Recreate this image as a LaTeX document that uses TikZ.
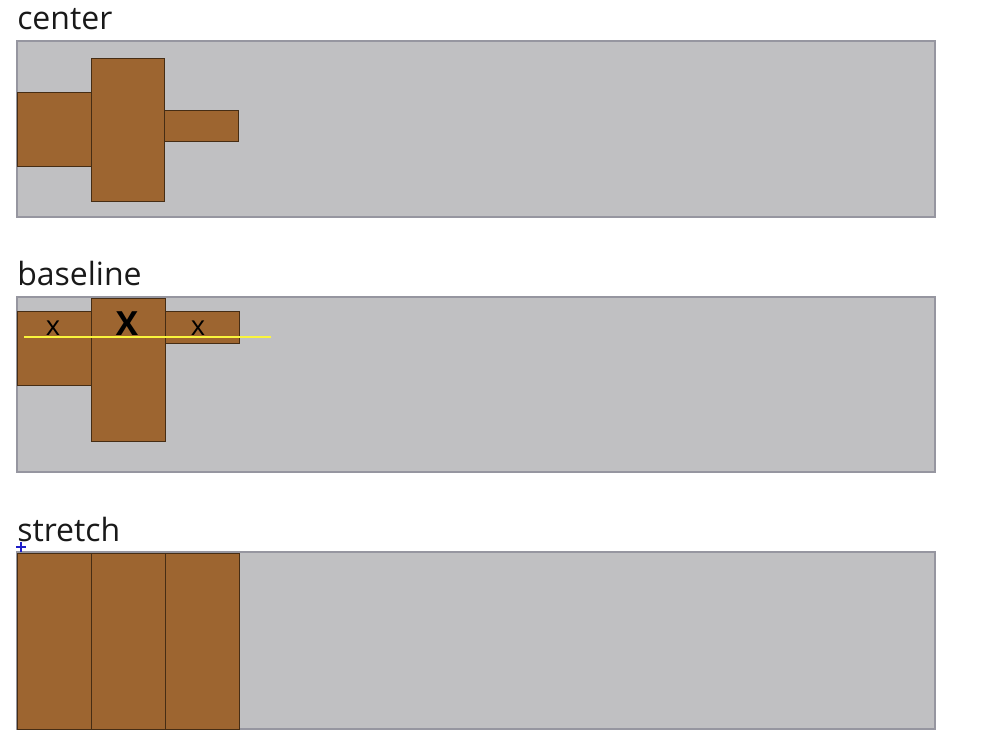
\documentclass[tikz,border=0pt]{standalone}
\usepackage{fontspec}
\setmainfont{Open Sans}
\definecolor{panelgray}{RGB}{192,192,194}
\definecolor{paneledge}{RGB}{150,150,160}
\definecolor{itembrown}{RGB}{157,101,48}
\definecolor{itemedge}{RGB}{70,45,20}
\definecolor{baseyellow}{RGB}{250,245,60}
\definecolor{crossblue}{RGB}{30,30,200}
\tikzset{
  panel/.style={draw=paneledge, fill=panelgray, line width=0.8pt, inner sep=0pt, outer sep=0pt},
  item/.style={draw=itemedge, fill=itembrown, line width=0.6pt, inner sep=0pt, outer sep=0pt},
  title/.style={anchor=base west, inner sep=0pt, font=\fontsize{24}{28}\selectfont, text=black!90},
  letter/.style={anchor=base, inner sep=0pt, text=black},
}
\newcommand{\pbox}[6]{%
  \node[#6, minimum width={(#4-#2)*0.75pt}, minimum height={(#5-#3)*0.75pt}] (#1) at ({(#2+#4)/2},{(#3+#5)/2}) {};}
\begin{document}
\begin{tikzpicture}[x=0.75pt,y=-0.75pt]
\useasboundingbox (0,0) rectangle (982,743);
% center
\node[title] (tcenter) at (17,29) {center};
\pbox{pcenter}{17}{41}{935}{217}{panel}
\pbox{c1}{17}{92}{91}{166}{item}
\pbox{c2}{91}{58}{164}{201}{item}
\pbox{c3}{164}{110}{238}{141}{item}
% baseline
\node[title] (tbaseline) at (17,285) {baseline};
\pbox{pbaseline}{17}{297}{935}{472}{panel}
\pbox{b1}{17}{311}{91}{385}{item}
\pbox{b2}{91}{298}{165}{441}{item}
\pbox{b3}{165}{311}{239}{343}{item}
\node[letter, font=\fontsize{20.5}{24}\selectfont] (x1) at (53,335) {x};
\node[letter, font=\fontsize{25}{28}\selectfont\bfseries] (x2) at (127,335) {X};
\node[letter, font=\fontsize{20.5}{24}\selectfont] (x3) at (198,335) {x};
\coordinate (yl) at (24,337);
\coordinate (yr) at (271,337);
\draw[baseyellow, line width=2.2pt] (yl) -- (yr);
% stretch
\node[title] (tstretch) at (17,541) {stretch};
\pbox{pstretch}{17}{552}{935}{729}{panel}
\pbox{s1}{17}{553}{91}{729}{item}
\pbox{s2}{91}{553}{165}{729}{item}
\pbox{s3}{165}{553}{239}{729}{item}
\coordinate (cr) at (21,547);
\draw[crossblue, line width=0.9pt] ([xshift=-3.5pt]cr) -- ([xshift=3.5pt]cr) ([yshift=-3.5pt]cr) -- ([yshift=3.5pt]cr);
\end{tikzpicture}
\end{document}
